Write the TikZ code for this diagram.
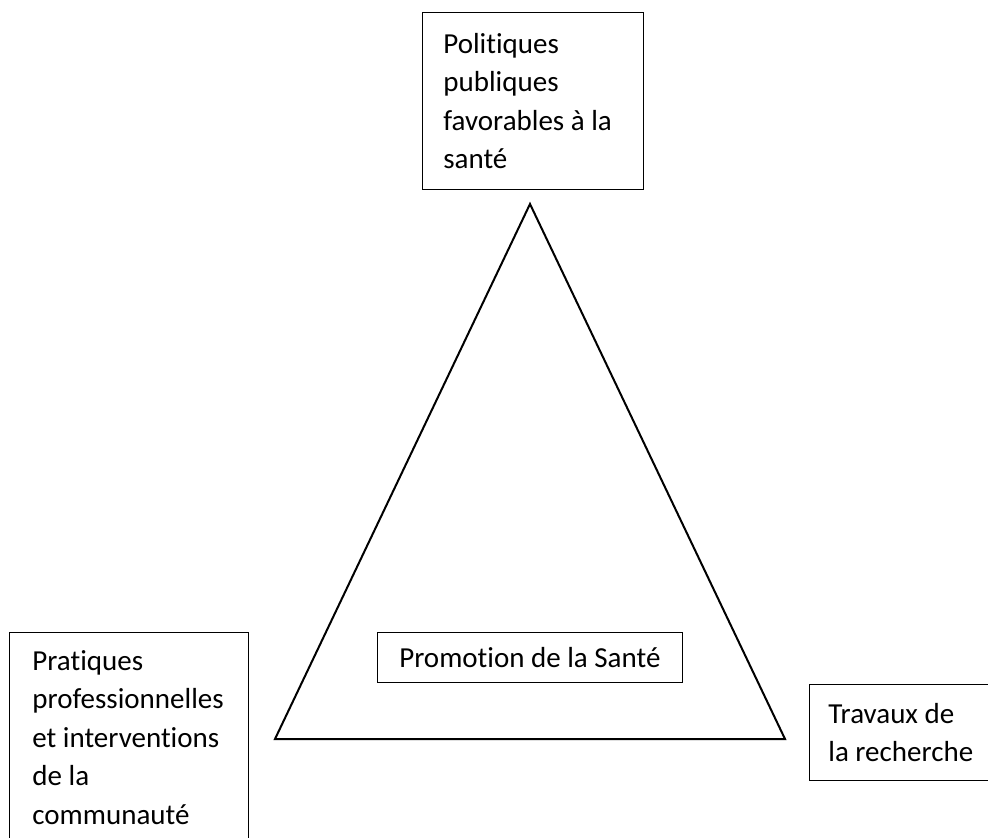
\documentclass[tikz,border=0pt]{standalone}
\usepackage{fontspec}
\setmainfont{Carlito}[Ligatures=NoCommon,Contextuals=NoAlternate]
\usepackage{tikz}

\begin{document}
\begin{tikzpicture}[x=1pt,y=-1pt,
  cadre/.style={draw,line width=0.8pt,anchor=north west,inner ysep=0pt,align=flush left,
    font=\fontsize{29}{38.5}\selectfont}]
\useasboundingbox (0,0) rectangle (988,838);
% triangle
\coordinate (sommet) at (530,204);
\coordinate (gauche) at (275,739);
\coordinate (droite) at (785,739);
\draw[line width=2pt] (sommet) -- (gauche) -- (droite) -- cycle;
% cadres
\node[cadre,inner xsep=21pt,text width=179pt,minimum width=221pt,minimum height=177pt] (politiques) at (422,12)
  {Politiques\\publiques\\favorables à la\\santé};
\node[cadre,inner xsep=23pt,text width=193pt,minimum width=239pt,minimum height=210pt] (pratiques) at (9,632)
  {Pratiques\\professionnelles\\et interventions\\de la\\communauté};
\node[cadre,inner xsep=19pt,text width=152pt,minimum width=190pt,minimum height=96pt] (travaux) at (809,684)
  {Travaux de\\la recherche};
\node[cadre,align=center,minimum width=305pt,minimum height=50pt] (promotion) at (377,632)
  {Promotion de la Santé};

\end{tikzpicture}
\end{document}
